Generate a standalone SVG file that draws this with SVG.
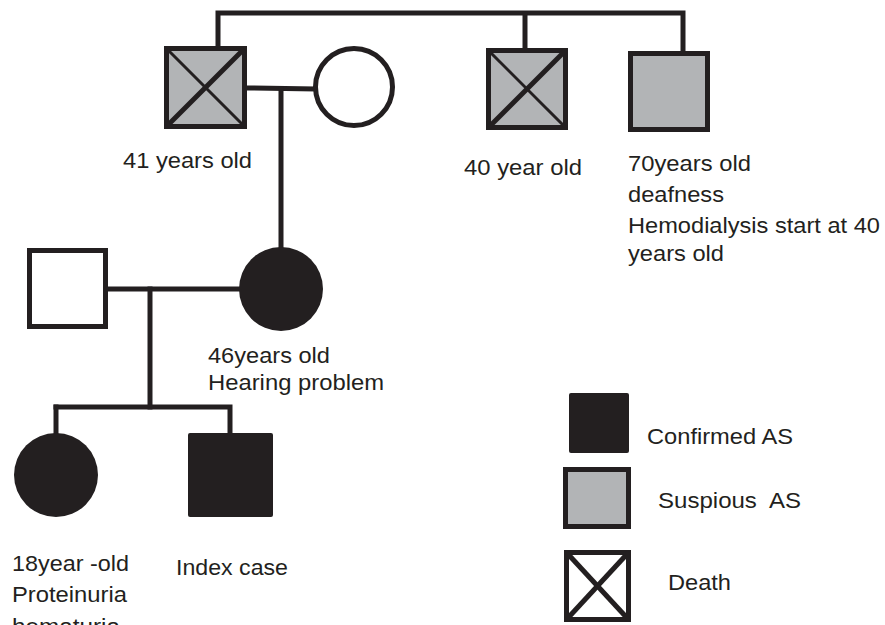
<svg xmlns="http://www.w3.org/2000/svg" width="885" height="625" viewBox="0 0 885 625">
<style>
.ln{fill:none;stroke:#231f20;stroke-width:5;stroke-linecap:square;stroke-linejoin:miter}
.sq{fill:#fff;stroke:#231f20;stroke-width:5}
.gr{fill:#b2b4b6;stroke:#231f20;stroke-width:5}
.bk{fill:#231f20;stroke:none}
.x1{stroke:#231f20;stroke-width:5}
.x2{stroke:#231f20;stroke-width:3}
text{font-family:"Liberation Sans",Arial,sans-serif;font-size:22px;fill:#231f20}
</style>
<rect width="885" height="625" fill="#fff"/>
<g id="connectors">
<path class="ln" d="M218,47 V13 H683 V51"/>
<path class="ln" d="M525,14 V48"/>
<path class="ln" d="M248,88 L314,89"/>
<path class="ln" d="M281,89 V248"/>
<path class="ln" d="M108,289 H240"/>
<path class="ln" d="M150,289 V407"/>
<path class="ln" d="M56,407 H230 V433"/>
<path class="ln" d="M56,407 V433"/>
</g>
<g id="grandfather">
<rect class="gr" x="166.5" y="48.5" width="78" height="78"/>
<line class="x1" x1="167" y1="126" x2="244" y2="49"/>
<line class="x2" x1="167" y1="49" x2="244" y2="126"/>
<text x="123" y="168" textLength="129" lengthAdjust="spacingAndGlyphs">41 years old</text>
</g>
<g id="grandmother">
<circle cx="354" cy="87" r="38.5" fill="#fff" stroke="#231f20" stroke-width="5"/>
</g>
<g id="granduncle1">
<rect class="gr" x="488.5" y="50.5" width="77" height="77"/>
<line class="x1" x1="489" y1="127" x2="565" y2="51"/>
<line class="x2" x1="489" y1="51" x2="565" y2="127"/>
<text x="464" y="175" textLength="118" lengthAdjust="spacingAndGlyphs">40 year old</text>
</g>
<g id="granduncle2">
<rect class="gr" x="630.5" y="53.5" width="77" height="76"/>
<text x="628" y="171" textLength="123" lengthAdjust="spacingAndGlyphs">70years old</text>
<text x="628" y="202" textLength="96" lengthAdjust="spacingAndGlyphs">deafness</text>
<text x="628" y="233" textLength="252" lengthAdjust="spacingAndGlyphs">Hemodialysis start at 40</text>
<text x="628" y="261" textLength="96" lengthAdjust="spacingAndGlyphs">years old</text>
</g>
<g id="father">
<rect class="sq" x="29.5" y="250.5" width="76" height="76"/>
</g>
<g id="mother">
<circle class="bk" cx="281" cy="289" r="42"/>
<text x="208" y="363" textLength="122" lengthAdjust="spacingAndGlyphs">46years old</text>
<text x="208" y="390" textLength="176" lengthAdjust="spacingAndGlyphs">Hearing problem</text>
</g>
<g id="sister">
<circle class="bk" cx="56" cy="475" r="42"/>
<text x="12" y="571" textLength="117" lengthAdjust="spacingAndGlyphs">18year -old</text>
<text x="12" y="602" textLength="115" lengthAdjust="spacingAndGlyphs">Proteinuria</text>
<text x="12" y="634" textLength="108" lengthAdjust="spacingAndGlyphs">hematuria</text>
</g>
<g id="index">
<rect class="bk" x="188" y="433" width="85" height="84" rx="2"/>
<text x="176" y="575" textLength="112" lengthAdjust="spacingAndGlyphs">Index case</text>
</g>
<g id="legend">
<rect class="bk" x="569" y="393" width="60" height="60" rx="2"/>
<text x="647" y="444" textLength="146" lengthAdjust="spacingAndGlyphs">Confirmed AS</text>
<rect class="gr" x="565.5" y="469.5" width="63" height="57"/>
<text x="658" y="508" textLength="143" lengthAdjust="spacingAndGlyphs" xml:space="preserve">Suspious  AS</text>
<rect class="sq" x="566.5" y="552.5" width="62" height="67"/>
<line class="x1" x1="567" y1="619" x2="628" y2="553"/>
<line class="x1" x1="567" y1="553" x2="628" y2="619"/>
<text x="668" y="590" textLength="63" lengthAdjust="spacingAndGlyphs">Death</text>
</g>
</svg>
